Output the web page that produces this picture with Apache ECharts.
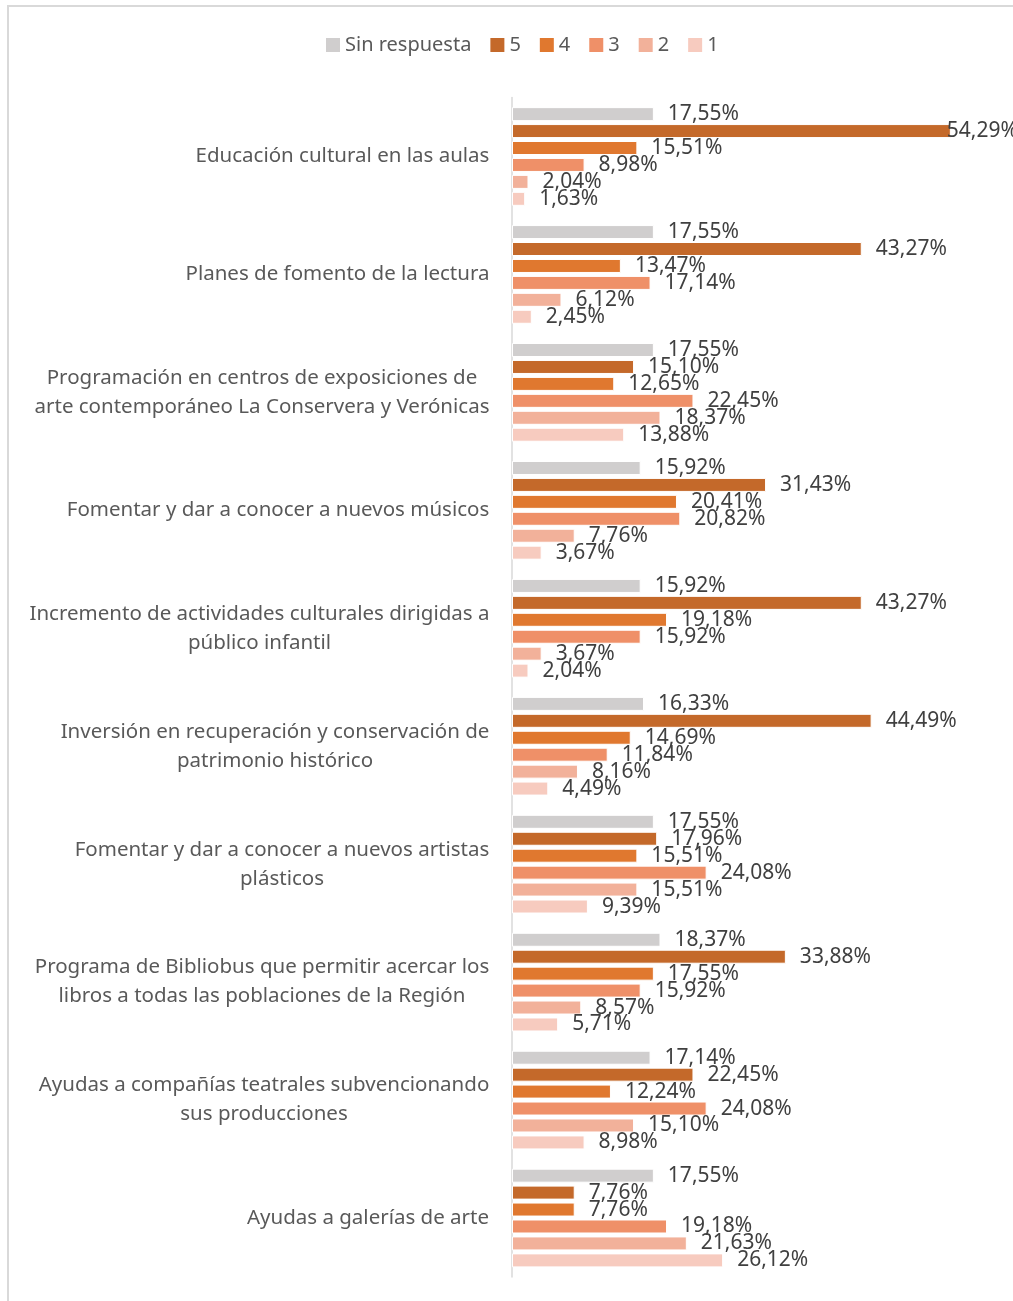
<!DOCTYPE html>
<html>
<head>
<meta charset="utf-8">
<script src="https://cdn.jsdelivr.net/npm/echarts@6/dist/echarts.min.js"></script>
<style>
  html, body { margin: 0; padding: 0; background: #fff; }
  #main { width: 1013px; height: 1301px; }
</style>
</head>
<body>
<div id="main"></div>
<script>
// categories (top to bottom)
const categories = [
  'Educación cultural en las aulas',
  'Planes de fomento de la lectura',
  'Programación en centros de exposiciones de\narte contemporáneo La Conservera y Verónicas',
  'Fomentar y dar a conocer a nuevos músicos',
  'Incremento de actividades culturales dirigidas a\npúblico infantil',
  'Inversión en recuperación y conservación de\npatrimonio histórico',
  'Fomentar y dar a conocer a nuevos artistas\nplásticos',
  'Programa de Bibliobus que permitir acercar los\nlibros a todas las poblaciones de la Región',
  'Ayudas a compañías teatrales subvencionando\nsus producciones',
  'Ayudas a galerías de arte'
];

const seriesNames = ['Sin respuesta', '5', '4', '3', '2', '1'];
const seriesColors = ['#d0cece', '#c4692a', '#e0782f', '#ef9068', '#f2b19a', '#f7cbbf'];

const sinRespuesta = [17.55, 17.55, 17.55, 15.92, 15.92, 16.33, 17.55, 18.37, 17.14, 17.55];
const valor5 = [54.29, 43.27, 15.10, 31.43, 43.27, 44.49, 17.96, 33.88, 22.45, 7.76];
const valor4 = [15.51, 13.47, 12.65, 20.41, 19.18, 14.69, 15.51, 17.55, 12.24, 7.76];
const valor3 = [8.98, 17.14, 22.45, 20.82, 15.92, 11.84, 24.08, 15.92, 24.08, 19.18];
const valor2 = [2.04, 6.12, 18.37, 7.76, 3.67, 8.16, 15.51, 8.57, 15.10, 21.63];
const valor1 = [1.63, 2.45, 13.88, 3.67, 2.04, 4.49, 9.39, 5.71, 8.98, 26.12];

const allValues = [sinRespuesta, valor5, valor4, valor3, valor2, valor1];

const AXIS_MAX = 60;
const CAT_FONT = '20.5px "Noto Sans"';

// multi-line category labels: block right-aligned at the axis, lines centered inside it
const ctx = document.createElement('canvas').getContext('2d');
ctx.font = CAT_FONT;
const rich = {};
categories.forEach((c, i) => {
  const w = Math.max(...c.split('\n').map(l => ctx.measureText(l).width));
  rich['c' + i] = { width: Math.ceil(w) + 1, align: 'center', color: '#595959', fontSize: 20.5, fontFamily: 'Noto Sans', lineHeight: 29 };
});

const chart = echarts.init(document.getElementById('main'));

const series = seriesNames.map((name, i) => ({
  name: name,
  type: 'bar',
  barWidth: 14,
  barGap: '21%',
  itemStyle: { color: seriesColors[i], borderColor: '#fff', borderWidth: 1 },
  label: {
    show: true,
    position: 'right',
    distance: 14,
    color: '#404040',
    fontSize: 21,
    fontFamily: 'Noto Sans',
    formatter: p => p.value.toFixed(2).replace('.', ',') + '%'
  },
  // pull the label back in when it would run off the right edge
  data: allValues[i].map(v => v > 50 ? { value: v, label: { offset: [-18, 0] } } : v)
}));

const option = {
  animation: false,
  backgroundColor: '#fff',
  graphic: [{
    type: 'rect',
    shape: { x: 8, y: 6, width: 1200, height: 1500 },
    style: { fill: 'none', stroke: '#d9d9d9', lineWidth: 2 },
    silent: true
  }],
  legend: {
    data: seriesNames,
    left: 321,
    top: 30,
    itemWidth: 14,
    itemHeight: 14,
    itemGap: 19,
    icon: 'rect',
    itemStyle: { borderWidth: 0 },
    textStyle: { color: '#595959', fontSize: 20, fontFamily: 'Noto Sans' }
  },
  grid: { left: 512, top: 97.5, width: 485, height: 1179.5 },
  xAxis: {
    type: 'value',
    min: 0,
    max: AXIS_MAX,
    show: false
  },
  yAxis: {
    type: 'category',
    data: categories,
    inverse: true,
    axisLine: { lineStyle: { color: '#d9d9d9', width: 1.5 } },
    axisTick: { show: false },
    axisLabel: {
      margin: 22,
      align: 'right',
      rich: rich,
      formatter: (v, i) => v.split('\n').map(l => '{c' + i + '|' + l + '}').join('\n')
    }
  },
  series: series
};

chart.setOption(option);
</script>
</body>
</html>
